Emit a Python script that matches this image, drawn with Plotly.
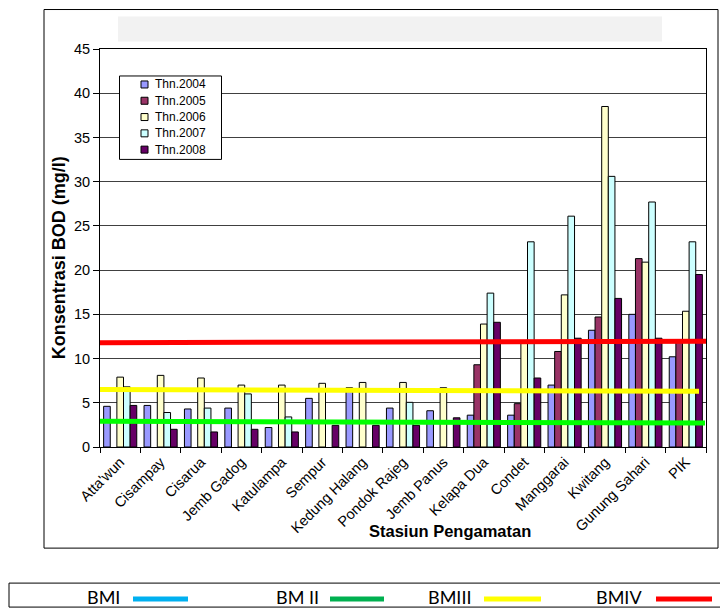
import plotly.graph_objects as go

stations = ["Atta'wun", "Cisampay", "Cisarua", "Jemb Gadog", "Katulampa", "Sempur",
            "Kedung Halang", "Pondok Rajeg", "Jemb Panus", "Kelapa Dua", "Condet",
            "Manggarai", "Kwitang", "Gunung Sahari", "PIK"]

thn2004 = [4.6, 4.7, 4.3, 4.4, 2.2, 5.5, 6.7, 4.4, 4.1, 3.6, 3.6, 7.0, 13.2, 15.0, 10.2]
thn2005 = [None, None, None, None, None, None, None, None, None, 9.3, 4.9, 10.8, 14.7, 21.3, 12.0]
thn2006 = [7.9, 8.1, 7.8, 7.0, 7.0, 7.2, 7.3, 7.3, 6.7, 13.9, 12.0, 17.2, 38.5, 20.9, 15.35]
thn2007 = [6.8, 3.9, 4.4, 6.0, 3.4, None, None, 5.05, None, 17.4, 23.2, 26.1, 30.6, 27.7, 23.2]
thn2008 = [4.7, 2.0, 1.7, 2.0, 1.7, 2.45, 2.45, 2.45, 3.3, 14.1, 7.8, 12.3, 16.8, 12.3, 19.5]

series_names = ["Thn.2004", "Thn.2005", "Thn.2006", "Thn.2007", "Thn.2008"]
series_colors = ["#9999FF", "#993366", "#FFFFCC", "#CCFFFF", "#660066"]

# threshold (baku mutu) lines: start / end values as drawn
bm_names = ["BM II", "BMIII", "BMIV"]
bm_start = [2.9, 6.5, 11.8]
bm_end = [2.7, 6.3, 11.95]
bm_colors = ["#00FF00", "#FFFF00", "#FF0000"]

legend_names = ["BMI", "BM II", "BMIII", "BMIV"]
legend_colors = ["#00B0F0", "#00B050", "#FFFF00", "#FF0000"]

fig = go.Figure()
for name, vals, col in zip(series_names, [thn2004, thn2005, thn2006, thn2007, thn2008], series_colors):
    fig.add_trace(go.Bar(x=stations, y=vals, name=name, showlegend=False,
                         marker=dict(color=col, line=dict(color="black", width=1))))

OFF = 8  # page body margin
W, H = 720, 604
L, R, T, B = 100 - OFF, 22, 48.5 - OFF, 604 - (446.8 - OFF)
pw, ph = W - L - R, H - T - B

def px(x):
    return (x - OFF - L) / pw

def py(y):
    return (H - B - (y - OFF)) / ph

FONT = "Liberation Sans, Arial, sans-serif"
shapes = []
annotations = []
# outer chart frame
shapes.append(dict(type="rect", xref="paper", yref="paper", x0=px(44), x1=px(718), y0=py(548), y1=py(9),
                   line=dict(color="black", width=1), layer="below"))
# grey title placeholder
shapes.append(dict(type="rect", xref="paper", yref="paper", x0=px(118), x1=px(662), y0=py(41), y1=py(16),
                   fillcolor="#F2F2F2", line=dict(width=0), layer="below"))
# threshold lines
x_ends = [px(705), px(699), px(706)]
for s, e, c, xe in zip(bm_start, bm_end, bm_colors, x_ends):
    shapes.append(dict(type="line", xref="paper", yref="y", x0=0, x1=xe, y0=s, y1=e,
                       line=dict(color=c, width=5), layer="above"))

# series legend (manual)
shapes.append(dict(type="rect", xref="paper", yref="paper", x0=px(119.5), x1=px(221.5), y0=py(159), y1=py(75.5),
                   fillcolor="white", line=dict(color="black", width=1), layer="above"))
for i, (name, col) in enumerate(zip(series_names, series_colors)):
    yc = 84 + i * 16.3
    shapes.append(dict(type="rect", xref="paper", yref="paper", x0=px(141), x1=px(148), y0=py(yc + 3.5),
                       y1=py(yc - 3.5), fillcolor=col, line=dict(color="black", width=1), layer="above"))
    annotations.append(dict(text=name, xref="paper", yref="paper", x=px(153), y=py(yc), showarrow=False,
                            xanchor="left", yanchor="middle", font=dict(family=FONT, size=12, color="black")))

# bottom legend box
shapes.append(dict(type="rect", xref="paper", yref="paper", x0=px(9), x1=px(723), y0=py(607), y1=py(583),
                   line=dict(color="black", width=1)))
text_x = [103, 297, 449, 619]
line_x = [(133, 188), (330, 384), (484, 541), (656, 712)]
for name, col, tx, (lx0, lx1) in zip(legend_names, legend_colors, text_x, line_x):
    annotations.append(dict(text=name, xref="paper", yref="paper", x=px(tx), y=py(597),
                            showarrow=False, xanchor="center", yanchor="middle",
                            font=dict(family="Lato, Open Sans, sans-serif", size=18, color="black")))
    shapes.append(dict(type="line", xref="paper", yref="paper", x0=px(lx0), x1=px(lx1), y0=py(599), y1=py(599),
                       line=dict(color=col, width=5)))

annotations.append(dict(text="<b>Stasiun Pengamatan</b>", xref="paper", yref="paper", x=px(450), y=py(531),
                        showarrow=False, xanchor="center", yanchor="middle",
                        font=dict(family=FONT, size=16.5, color="black")))
annotations.append(dict(text="<b>Konsentrasi BOD (mg/l)</b>", xref="paper", yref="paper", x=px(59), y=py(258),
                        showarrow=False, xanchor="center", yanchor="middle", textangle=-90,
                        font=dict(family=FONT, size=18, color="black")))

fig.update_layout(
    width=W, height=H,
    margin=dict(l=L, r=R, t=T, b=B, autoexpand=False),
    paper_bgcolor="white", plot_bgcolor="white",
    barmode="group", bargap=0.18, bargroupgap=0,
    font=dict(family=FONT, size=12, color="black"),
    showlegend=False,
    shapes=shapes, annotations=annotations,
)
fig.update_xaxes(type="category", tickangle=-45, tickson="boundaries", ticks="outside", ticklen=5,
                 tickcolor="black", showline=True, linecolor="black", linewidth=1, mirror=True,
                 showgrid=False, tickfont=dict(size=14.5), automargin=False)
fig.update_yaxes(range=[0, 45], dtick=5, ticks="outside", ticklen=6, tickcolor="black",
                 showline=True, linecolor="black", linewidth=1, mirror=True,
                 showgrid=True, gridcolor="#404040", gridwidth=1, zeroline=False,
                 tickfont=dict(size=14.5), automargin=False)

fig.write_html("out.html")
